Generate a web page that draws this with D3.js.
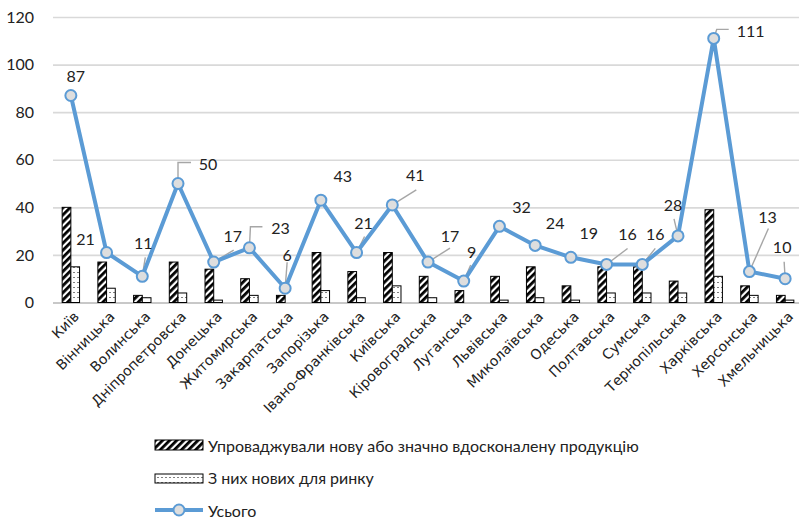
<!DOCTYPE html>
<html>
<head>
<meta charset="utf-8">
<script src="https://cdn.jsdelivr.net/npm/d3@7"></script>
<style>
  body { margin: 0; background: #fff; }
  text { font-family: Lato, "Open Sans", sans-serif; }
</style>
</head>
<body>
<div id="chart"></div>
<script>
const regions = ['Київ', 'Вінницька', 'Волинська', 'Дніпропетровска', 'Донецька', 'Житомирська',
  'Закарпатська', 'Запорізька', 'Івано-Франківська', 'Київська', 'Кіровоградська', 'Луганська',
  'Львівська', 'Миколаївська', 'Одеська', 'Полтавська', 'Сумська', 'Тернопільська',
  'Харківська', 'Херсонська', 'Хмельницька']
const introduced = [40, 17, 3, 17, 14, 10, 3, 21, 13, 21, 11, 5, 11, 15, 7, 15, 15, 9, 39, 7, 3]
const newForMarket = [15, 6, 2, 4, 1, 3, 0, 5, 2, 7, 2, 0, 1, 2, 1, 4, 4, 4, 11, 3, 1]
const total = [87, 21, 11, 50, 17, 23, 6, 43, 21, 41, 17, 9, 32, 24, 19, 16, 16, 28, 111, 13, 10]
const yTicks = [0, 20, 40, 60, 80, 100, 120]
const seriesNames = ['Упроваджували нову або значно вдосконалену продукцію', 'З них нових для ринку', 'Усього']

// where Excel put each data label (offset from the point) and its leader line
const labelPlace = [
  { dx: 5, dy: -20 }, { dx: -21, dy: -14 }, { dx: 1, dy: -34, lead: [[3, -19]] },
  { dx: 30, dy: -20, lead: [[0, -21], [13, -21]] }, { dx: 19, dy: -27, lead: [[20, -12]] },
  { dx: 31, dy: -20, lead: [[1, -21], [13, -21]] }, { dx: 2, dy: -34, lead: [[2, -26]] },
  { dx: 22, dy: -25 }, { dx: 7, dy: -30, lead: [[8, -16]] }, { dx: 23, dy: -30, lead: [[24, -15]] },
  { dx: 22, dy: -27, lead: [[22, -14]] }, { dx: 8, dy: -30, lead: [[7, -16]] },
  { dx: 22, dy: -20 }, { dx: 20, dy: -23 }, { dx: 18, dy: -25 },
  { dx: 21, dy: -31, lead: [[21, -16]] }, { dx: 13, dy: -31, lead: [[13, -16]] },
  { dx: -5, dy: -31, lead: [[-4, -17]] }, { dx: 37, dy: -8, lead: [[3, -9], [15, -9]] },
  { dx: 18, dy: -55, lead: [[19, -43]] }, { dx: -3, dy: -32, lead: [[-1, -17]] }
]

const width = 799, height = 518
const plot = { left: 53, right: 803, top: 17, bottom: 302.5 }
const blue = '#5b9bd5'

const svg = d3.select('#chart').append('svg')
  .attr('width', width).attr('height', height)

const defs = svg.append('defs')
const hatch = defs.append('pattern').attr('id', 'hatch')
  .attr('patternUnits', 'userSpaceOnUse').attr('width', 5).attr('height', 5)
  .attr('patternTransform', 'rotate(45)')
hatch.append('rect').attr('width', 5).attr('height', 5).attr('fill', '#fff')
hatch.append('rect').attr('width', 2.8).attr('height', 5).attr('fill', '#000')

const dots = defs.append('pattern').attr('id', 'dots')
  .attr('patternUnits', 'userSpaceOnUse').attr('width', 4).attr('height', 5)
dots.append('rect').attr('width', 4).attr('height', 5).attr('fill', '#fff')
dots.append('rect').attr('x', 1.5).attr('y', 2).attr('width', 1).attr('height', 1).attr('fill', '#000')

const x = d3.scaleBand().domain(regions).range([plot.left, plot.right])
const y = d3.scaleLinear().domain([0, 120]).range([plot.bottom, plot.top])
const cx = d => x(d) + x.bandwidth() / 2
const barW = 8.7

// grid + y axis
svg.append('g')
  .attr('transform', `translate(${plot.left},0)`)
  .call(d3.axisLeft(y).tickValues(yTicks).tickSize(-(plot.right - plot.left)).tickPadding(19))
  .call(g => g.select('.domain').remove())
  .call(g => g.selectAll('.tick line').attr('stroke', d => d === 0 ? '#c8c8c8' : '#d9d9d9')
    .attr('stroke-width', d => d === 0 ? 2.2 : 1.6))
  .call(g => g.selectAll('.tick text').attr('font-size', 16).attr('fill', '#222'))

// bars
svg.append('g').selectAll('rect').data(regions).join('rect')
  .attr('x', d => cx(d) - barW)
  .attr('y', (d, i) => y(introduced[i]))
  .attr('width', barW)
  .attr('height', (d, i) => y(0) - y(introduced[i]))
  .attr('fill', 'url(#hatch)').attr('stroke', (d, i) => introduced[i] ? '#000' : 'none').attr('stroke-width', 1)

svg.append('g').selectAll('rect').data(regions).join('rect')
  .attr('x', d => cx(d))
  .attr('y', (d, i) => y(newForMarket[i]))
  .attr('width', barW)
  .attr('height', (d, i) => y(0) - y(newForMarket[i]))
  .attr('fill', 'url(#dots)').attr('stroke', (d, i) => newForMarket[i] ? '#000' : 'none').attr('stroke-width', 1)

// x axis labels
svg.append('g')
  .attr('transform', `translate(0,${plot.bottom})`)
  .call(d3.axisBottom(x).tickSize(0).tickPadding(0))
  .call(g => g.select('.domain').remove())
  .call(g => g.selectAll('.tick text')
    .style('font-family', '"DejaVu Sans", sans-serif')
    .attr('font-size', 14).attr('fill', '#222')
    .attr('text-anchor', 'end')
    .attr('dy', 0)
    .attr('transform', 'translate(9,15) rotate(-45)'))

// leader lines
const lead = svg.append('g')
regions.forEach((r, i) => {
  const p = labelPlace[i]
  if (!p.lead) return
  const px = cx(r), py = y(total[i])
  const pts = [[px, py]].concat(p.lead.map(o => [px + o[0], py + o[1]]))
  lead.append('path').attr('d', d3.line()(pts))
    .attr('fill', 'none').attr('stroke', '#a6a6a6').attr('stroke-width', 1.4)
})

// total line
svg.append('path').datum(total)
  .attr('d', d3.line().x((d, i) => cx(regions[i])).y(d => y(d)))
  .attr('fill', 'none').attr('stroke', blue).attr('stroke-width', 4).attr('stroke-linejoin', 'round')

svg.append('g').selectAll('circle').data(total).join('circle')
  .attr('cx', (d, i) => cx(regions[i])).attr('cy', d => y(d)).attr('r', 5.5)
  .attr('fill', '#dedede').attr('stroke', blue).attr('stroke-width', 2)

svg.append('g').selectAll('text').data(total).join('text')
  .attr('x', (d, i) => cx(regions[i]) + labelPlace[i].dx)
  .attr('y', (d, i) => y(d) + labelPlace[i].dy)
  .attr('text-anchor', 'middle').attr('dominant-baseline', 'central')
  .attr('font-size', 16).attr('fill', '#222')
  .text(d => d)

// legend
const lg = svg.append('g')
const lx = 155, lw = 48
lg.append('rect').attr('x', lx).attr('y', 440).attr('width', lw).attr('height', 10)
  .attr('fill', 'url(#hatch)').attr('stroke', '#000')
lg.append('rect').attr('x', lx).attr('y', 474).attr('width', lw).attr('height', 9)
  .attr('fill', 'url(#dots)').attr('stroke', '#000')
lg.append('line').attr('x1', lx).attr('x2', lx + lw).attr('y1', 510).attr('y2', 510)
  .attr('stroke', blue).attr('stroke-width', 4)
lg.append('circle').attr('cx', lx + lw / 2).attr('cy', 510).attr('r', 5.5)
  .attr('fill', '#dedede').attr('stroke', blue).attr('stroke-width', 2)
lg.selectAll('text').data(seriesNames).join('text')
  .attr('x', 208).attr('y', (d, i) => 445 + i * 32.5)
  .attr('dominant-baseline', 'central')
  .attr('font-size', 16).attr('fill', '#222')
  .text(d => d)
</script>
</body>
</html>
